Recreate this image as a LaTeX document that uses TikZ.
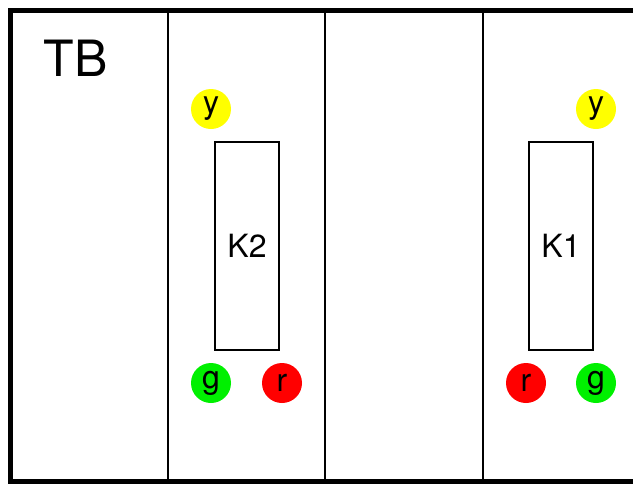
\documentclass[tikz,border=0pt]{standalone}
\usepackage{fontspec}
\setmainfont{TeX Gyre Heros}
\usepackage{xcolor}
\usetikzlibrary{positioning}

\definecolor{lampyellow}{RGB}{255,255,0}
\definecolor{lampgreen}{RGB}{0,240,0}
\definecolor{lampred}{RGB}{255,0,0}

\tikzset{
	lamp/.style={circle, minimum size=40pt, inner sep=0pt, font=\fontsize{32}{34}\selectfont},
	relay/.style={draw, line width=1.5pt, minimum width=64pt, minimum height=208pt, inner sep=0pt, font=\fontsize{32}{34}\selectfont},
}

\begin{document}
\begin{tikzpicture}[x=1pt, y=-1pt]
		\useasboundingbox (0,0) rectangle (633,483);

		\def\xL{10.5};
		\def\yT{10.5};
		\def\yB{481};

		% frame
		\begin{scope}[line width=5pt]
			\draw (640,\yT) -- (\xL,\yT) -- (\xL,\yB) -- (640,\yB);
		\end{scope}

		% columns
		\begin{scope}[line width=1.5pt]
			\foreach \x in {168, 325, 483}
				\draw (\x,\yT) -- (\x,\yB);
		\end{scope}

		\node[anchor=base west, font=\fontsize{50}{52}\selectfont] (tb) at (40,76) {TB};

		% relay K2
		\node[relay] (k2) at (247,246) {K2};
		\node[lamp, fill=lampyellow] (k2y) at (211,109) {y};
		\node[lamp, fill=lampgreen] (k2g) at (211,383) {g};
		\node[lamp, fill=lampred] (k2r) at (282,383) {r};

		% relay K1
		\node[relay] (k1) at (561,246) {K1};
		\node[lamp, fill=lampyellow] (k1y) at (596,109) {y};
		\node[lamp, fill=lampred] (k1r) at (526,383) {r};
		\node[lamp, fill=lampgreen] (k1g) at (596,383) {g};
	\end{tikzpicture}
\end{document}
